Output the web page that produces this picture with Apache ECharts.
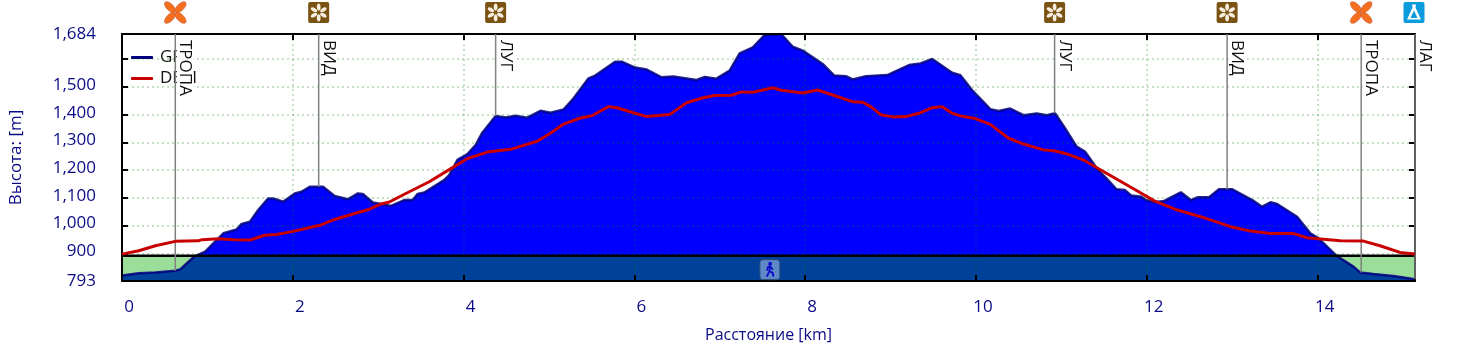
<!DOCTYPE html>
<html>
<head>
<meta charset="utf-8">
<style>
  html, body { margin: 0; padding: 0; background: #fff; }
  #chart { width: 1473px; height: 359px; }
</style>
<script src="https://cdn.jsdelivr.net/npm/echarts@6/dist/echarts.min.js"></script>
</head>
<body>
<div id="chart"></div>
<script>
const gpsKm = [0, 0.196, 0.391, 0.624, 0.682, 0.76, 0.857, 0.974, 1.09, 1.187, 1.343, 1.401, 1.498, 1.595, 1.712, 1.77, 1.887, 2.023, 2.101, 2.198, 2.354, 2.489, 2.645, 2.762, 2.82, 2.937, 3.034, 3.15, 3.306, 3.403, 3.461, 3.539, 3.772, 3.831, 3.928, 4.045, 4.142, 4.219, 4.375, 4.492, 4.608, 4.744, 4.9, 5.016, 5.172, 5.288, 5.463, 5.541, 5.774, 5.852, 6.007, 6.144, 6.318, 6.455, 6.727, 6.824, 6.96, 7.115, 7.232, 7.387, 7.523, 7.718, 7.854, 7.971, 8.204, 8.34, 8.476, 8.554, 8.71, 8.962, 9.215, 9.351, 9.487, 9.72, 9.817, 9.953, 10.167, 10.264, 10.4, 10.556, 10.711, 10.828, 10.925, 11.042, 11.178, 11.275, 11.43, 11.528, 11.644, 11.741, 11.819, 11.936, 11.99, 12.087, 12.204, 12.398, 12.515, 12.593, 12.729, 12.845, 13.001, 13.234, 13.35, 13.448, 13.526, 13.759, 13.914, 14.011, 14.225, 14.419, 14.497, 14.653, 14.886, 15.139];
const gpsEle = [813, 821, 824, 830, 835, 857, 883, 899, 935, 965, 979, 999, 1007, 1049, 1091, 1091, 1079, 1109, 1115, 1133, 1133, 1100, 1088, 1109, 1107, 1076, 1071, 1064, 1085, 1085, 1107, 1112, 1157, 1175, 1230, 1251, 1284, 1328, 1388, 1383, 1389, 1382, 1407, 1400, 1412, 1452, 1524, 1534, 1584, 1584, 1563, 1556, 1528, 1531, 1518, 1529, 1523, 1552, 1614, 1636, 1680, 1684, 1638, 1624, 1576, 1534, 1532, 1520, 1532, 1536, 1572, 1578, 1594, 1544, 1535, 1482, 1413, 1406, 1415, 1391, 1397, 1391, 1398, 1344, 1278, 1260, 1193, 1163, 1124, 1121, 1101, 1097, 1085, 1077, 1082, 1113, 1085, 1095, 1095, 1124, 1124, 1085, 1061, 1077, 1071, 1025, 965, 947, 883, 845, 824, 818, 811, 799];
const demKm = [0, 0.196, 0.391, 0.624, 0.896, 0.935, 1.129, 1.324, 1.498, 1.673, 1.809, 2.004, 2.315, 2.489, 2.684, 2.898, 3.034, 3.131, 3.306, 3.598, 3.87, 4.045, 4.278, 4.55, 4.861, 5.016, 5.172, 5.366, 5.502, 5.696, 5.794, 5.988, 6.144, 6.416, 6.61, 6.804, 6.94, 7.135, 7.252, 7.387, 7.621, 7.718, 7.971, 8.146, 8.321, 8.554, 8.671, 8.768, 8.885, 9.02, 9.176, 9.331, 9.487, 9.604, 9.72, 9.837, 9.992, 10.167, 10.381, 10.556, 10.789, 10.925, 11.081, 11.275, 11.43, 11.854, 12.087, 12.359, 12.631, 12.981, 13.215, 13.448, 13.72, 13.875, 14.069, 14.264, 14.536, 14.73, 14.964, 15.139];
const demEle = [890, 902, 920, 936, 938, 942, 945, 942, 941, 958, 961, 972, 994, 1015, 1033, 1052, 1071, 1078, 1106, 1151, 1202, 1235, 1258, 1268, 1297, 1326, 1359, 1381, 1389, 1422, 1418, 1400, 1386, 1394, 1436, 1454, 1462, 1463, 1475, 1474, 1490, 1481, 1471, 1482, 1464, 1440, 1438, 1422, 1393, 1385, 1386, 1398, 1418, 1422, 1398, 1387, 1379, 1358, 1308, 1287, 1266, 1262, 1250, 1227, 1199, 1124, 1082, 1049, 1025, 989, 973, 964, 964, 949, 944, 938, 937, 920, 896, 890];

const waypointNames = ["ТРОПА", "ВИД", "ЛУГ", "ЛУГ", "ВИД", "ТРОПА", "ЛАГ"];
const waypointKm = [0.624, 2.303, 4.375, 10.92, 12.94, 14.51, 15.14];
const waypointEle = [830, 1133, 1388, 1398, 1124, 824, 799];
const waypointIcons = ["trail", "view", "view", "view", "view", "trail", "camp"];

const yLabels = [793, 900, 1000, 1100, 1200, 1300, 1400, 1500, 1684];
const xLabels = [0, 2, 4, 6, 8, 10, 12, 14];
const baseEle = 884;
const walkKm = 7.586;
const walkEle = 834;
const kmMax = 15.14;
const eleMin = 793;
const eleMax = 1684;

const FONT = '"Open Sans", "Noto Sans", sans-serif';
const AXIS_COLOR = "#0b0b85";

const zip = (xs, ys) => xs.map((x, i) => [x, ys[i]]);

// petals drawn around a local origin, rotated step by step
const petals = (cx, cy, count, start, dist, rx, ry, style) => {
  const out = [];
  for (let i = 0; i < count; i++) {
    out.push({
      type: "ellipse",
      x: cx,
      y: cy,
      rotation: start + (i * Math.PI * 2) / count,
      shape: { cx: 0, cy: -dist, rx, ry },
      style,
    });
  }
  return out;
};

const iconShapes = (name, cx, cy) => {
  if (name === "trail") {
    return petals(cx, cy, 4, Math.PI / 4, 7.5, 3.4, 7, { fill: "#f5701e", stroke: "#c8553a", lineWidth: 0.6 });
  }
  if (name === "view") {
    return [
      { type: "rect", shape: { x: cx - 10.5, y: cy - 10.5, width: 21, height: 21, r: 2 }, style: { fill: "#7a5312" } },
      ...petals(cx, cy, 6, 0, 5.4, 1.9, 3.6, { fill: "#f6efe0" }),
    ];
  }
  return [
    { type: "rect", shape: { x: cx - 10.5, y: cy - 10.5, width: 21, height: 21, r: 2 }, style: { fill: "#0c9bdc" } },
    { type: "polygon", shape: { points: [[cx - 2, cy - 8], [cx + 2, cy - 8], [cx + 1.5, cy - 5], [cx + 7, cy + 7], [cx - 7, cy + 7], [cx - 1.5, cy - 5]] }, style: { fill: "#ffffff" } },
    { type: "polygon", shape: { points: [[cx, cy - 2], [cx + 3.5, cy + 5.5], [cx - 3.5, cy + 5.5]] }, style: { fill: "#0c9bdc" } },
  ];
};

const renderWaypoint = (params, api) => {
  const km = api.value(0);
  const top = api.coord([km, eleMax]);
  const foot = api.coord([km, api.value(1)]);
  const name = waypointNames[params.dataIndex];
  const iconX = Math.min(top[0], 1414);
  return {
    type: "group",
    children: [
      { type: "line", shape: { x1: top[0], y1: top[1], x2: foot[0], y2: foot[1] }, style: { stroke: "#808080", lineWidth: 1.5 } },
      {
        type: "text",
        x: top[0] + 1.5,
        y: top[1] + 6,
        rotation: -Math.PI / 2,
        style: {
          text: name,
          font: "17px " + FONT,
          fill: "#111",
          textAlign: "left",
          textVerticalAlign: "bottom",
          backgroundColor: "#fff",
        },
      },
      ...iconShapes(waypointIcons[params.dataIndex], iconX, top[1] - 21.5),
    ],
  };
};

const renderWalker = (params, api) => {
  const p = api.coord([api.value(0), api.value(1)]);
  const x = p[0];
  const y = p[1];
  const body = { stroke: "#0a0ac8", lineWidth: 1.8, fill: null };
  return {
    type: "group",
    children: [
      { type: "rect", shape: { x: x - 10, y: y - 10, width: 20, height: 20, r: 3 }, style: { fill: "#5f88c8", stroke: "#2c4a78", lineWidth: 1 } },
      { type: "circle", shape: { cx: x + 0.3, cy: y - 6, r: 1.9 }, style: { fill: "#0a0ac8" } },
      { type: "polyline", shape: { points: [[x, y - 3.5], [x - 0.5, y + 1.5], [x - 3, y + 7]] }, style: body },
      { type: "polyline", shape: { points: [[x - 0.5, y + 1.5], [x + 3, y + 3.5], [x + 3.5, y + 7]] }, style: body },
      { type: "polyline", shape: { points: [[x - 2.8, y + 1], [x - 2, y - 2.5], [x, y - 3.5], [x + 3, y]] }, style: body },
    ],
  };
};

const tickStyle = {
  show: true,
  inside: true,
  length: 6,
  lineStyle: { color: "#000", width: 2 },
};
const frameLine = { show: true, onZero: false, lineStyle: { color: "#000", width: 2 } };
const gridLine = {
  show: true,
  lineStyle: { color: "rgba(0,128,0,0.3)", width: 1.5, type: [2, 3] },
};

const chart = echarts.init(document.getElementById("chart"), null, { renderer: "canvas" });

chart.setOption({
  animation: false,
  backgroundColor: "#fff",
  grid: { left: 117, right: 58, top: 34, height: 247 },
  legend: {
    z: 2,
    orient: "vertical",
    left: 126,
    top: 44,
    itemWidth: 22,
    itemHeight: 3,
    itemGap: 4,
    icon: "roundRect",
    data: ["GPS", "DEM"],
    textStyle: { color: "#111", fontFamily: FONT, fontSize: 17, padding: [0, 0, 12, 2] },
  },
  xAxis: [
    {
      type: "value",
      min: 0,
      max: kmMax,
      interval: 2,
      z: 5,
      name: "Расстояние [km]",
      nameLocation: "middle",
      nameGap: 46,
      nameTextStyle: { color: AXIS_COLOR, fontFamily: FONT, fontSize: 16 },
      axisLine: frameLine,
      axisTick: tickStyle,
      splitLine: gridLine,
      axisLabel: {
        customValues: xLabels,
        color: AXIS_COLOR,
        fontFamily: FONT,
        fontSize: 17,
        margin: 18,
        padding: [0, 0, 0, 14],
      },
    },
    {
      type: "value",
      position: "top",
      min: 0,
      max: kmMax,
      interval: 2,
      z: 5,
      axisLine: frameLine,
      axisTick: tickStyle,
      splitLine: { show: false },
      axisLabel: { show: false },
    },
  ],
  yAxis: [
    {
      type: "value",
      min: eleMin,
      max: eleMax,
      interval: 100,
      z: 5,
      name: "Высота: [m]",
      nameLocation: "middle",
      nameGap: 97,
      nameTextStyle: { color: AXIS_COLOR, fontFamily: FONT, fontSize: 17 },
      axisLine: frameLine,
      axisTick: tickStyle,
      splitLine: gridLine,
      axisLabel: {
        customValues: yLabels,
        color: AXIS_COLOR,
        fontFamily: FONT,
        fontSize: 17,
        margin: 26,
      },
    },
    {
      type: "value",
      position: "right",
      min: eleMin,
      max: eleMax,
      interval: 100,
      z: 5,
      axisLine: frameLine,
      axisTick: tickStyle,
      splitLine: { show: false },
      axisLabel: { show: false },
    },
  ],
  series: [
    {
      name: "band",
      type: "line",
      z: 1,
      showSymbol: false,
      data: [[0, baseEle], [kmMax, baseEle]],
      lineStyle: { width: 0 },
      areaStyle: { color: "#9ade9a", origin: "start", opacity: 1 },
    },
    {
      name: "terrain",
      type: "line",
      z: 2,
      showSymbol: false,
      data: zip(gpsKm, gpsEle),
      lineStyle: { width: 0 },
      areaStyle: { color: "#0000ff", origin: "start", opacity: 1 },
    },
    {
      name: "water",
      type: "line",
      z: 3,
      showSymbol: false,
      data: zip(gpsKm, gpsEle.map((v) => Math.min(v, baseEle))),
      lineStyle: { width: 0 },
      areaStyle: { color: "#00429a", origin: "start", opacity: 1 },
    },
    {
      name: "GPS",
      type: "line",
      z: 4,
      showSymbol: false,
      data: zip(gpsKm, gpsEle),
      itemStyle: { color: "#00007f" },
      lineStyle: { color: "#00007f", width: 2.5, opacity: 0.85 },
    },
    {
      name: "base",
      type: "line",
      z: 6,
      showSymbol: false,
      data: [[0, baseEle], [kmMax, baseEle]],
      lineStyle: { color: "#000", width: 2.5 },
    },
    {
      name: "waypoints",
      type: "custom",
      z: 7,
      clip: false,
      renderItem: renderWaypoint,
      encode: { x: 0, y: 1 },
      data: zip(waypointKm, waypointEle),
    },
    {
      name: "DEM",
      type: "line",
      z: 8,
      showSymbol: false,
      data: zip(demKm, demEle),
      itemStyle: { color: "#c80000" },
      lineStyle: { color: "#c80000", width: 3 },
    },
    {
      name: "walk",
      type: "custom",
      z: 8,
      clip: false,
      renderItem: renderWalker,
      encode: { x: 0, y: 1 },
      data: [[walkKm, walkEle]],
    },
  ],
});
</script>
</body>
</html>
